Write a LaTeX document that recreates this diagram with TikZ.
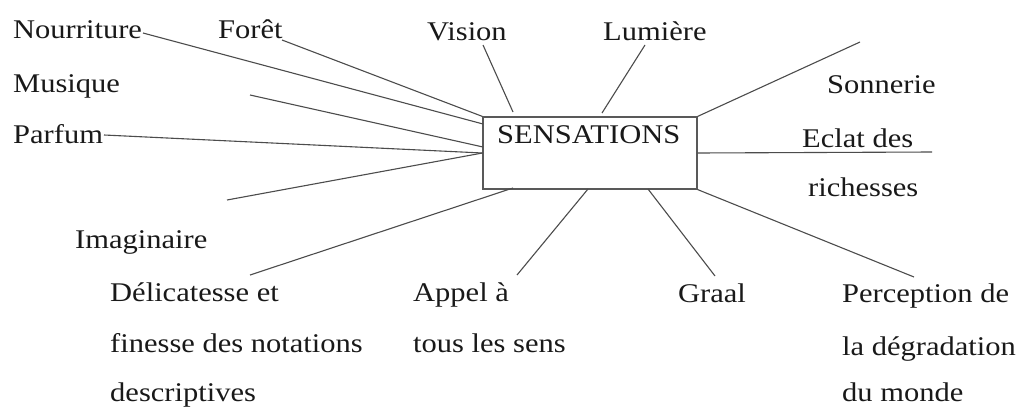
\documentclass[tikz,border=0pt]{standalone}
\usepackage{fontspec}
\usepackage{graphicx}
\setmainfont{Liberation Serif}
\newcommand{\wid}[1]{\scalebox{1.13}[1]{#1}}
\usetikzlibrary{calc}
\begin{document}
\begin{tikzpicture}[x=1pt,y=-1pt,
  lbl/.style={inner sep=0pt,anchor=base west,font=\fontsize{27}{32}\selectfont,text=black!90},
  conn/.style={draw=black!70,line width=1.1pt},
  boxst/.style={draw=black!65,line width=1.1pt,minimum width=214pt,minimum height=72pt,inner sep=0pt}]
\useasboundingbox[fill=white] (0,0) rectangle (1017,407);
% central box
\node[boxst] (box) at (590,153) {};
\node[lbl] (sens) at (497,143) {\wid{SENSATIONS}};
% labels
\node[lbl] (nour) at (13,38) {\wid{Nourriture}};
\node[lbl] (foret) at (218,38) {\wid{Forêt}};
\node[lbl] (vision) at (427,40) {\wid{Vision}};
\node[lbl] (lum) at (603,40) {\wid{Lumière}};
\node[lbl] (mus) at (13,92) {\wid{Musique}};
\node[lbl] (parf) at (13,143) {\wid{Parfum}};
\node[lbl] (son) at (827,93) {\wid{Sonnerie}};
\node[lbl] (ecl1) at (802,147) {\wid{Eclat des}};
\node[lbl] (ecl2) at (808,196) {\wid{richesses}};
\node[lbl] (imag) at (75,248) {\wid{Imaginaire}};
\node[lbl] (del1) at (110,301) {\wid{Délicatesse et}};
\node[lbl] (del2) at (110,352) {\wid{finesse des notations}};
\node[lbl] (del3) at (110,401) {\wid{descriptives}};
\node[lbl] (app1) at (413,301) {\wid{Appel à}};
\node[lbl] (app2) at (413,352) {\wid{tous les sens}};
\node[lbl] (graal) at (678,302) {\wid{Graal}};
\node[lbl] (perc1) at (842,302) {\wid{Perception de}};
\node[lbl] (perc2) at (842,355) {\wid{la dégradation}};
\node[lbl] (perc3) at (842,401) {\wid{du monde}};
% free ends and box attachment points
\coordinate (nourE) at (143,33);
\coordinate (foretE) at (282,40);
\coordinate (visE) at (483,45);
\coordinate (lumE) at (645,45);
\coordinate (musE) at (250,95);
\coordinate (parfE) at (104,135);
\coordinate (imagE) at (227,200);
\coordinate (delE) at (250,275);
\coordinate (appE) at (517,275);
\coordinate (graalE) at (715,276);
\coordinate (percE) at (914,277);
\coordinate (eclE) at (932,152);
\coordinate (sonE) at (860,42);
\coordinate (bNour) at (483,124);
\coordinate (bMus) at (483,147);
\coordinate (bVis) at (513,112);
\coordinate (bLum) at (602,113);
\coordinate (bDel) at (513,188);
\coordinate (bApp) at (588,189);
\coordinate (bGraal) at (648,189);
% connectors
\draw[conn] (nourE) -- (bNour);
\draw[conn] (foretE) -- (box.north west);
\draw[conn] (visE) -- (bVis);
\draw[conn] (lumE) -- (bLum);
\draw[conn] (musE) -- (bMus);
\draw[conn] (parfE) -- (box.west);
\draw[conn] (imagE) -- (box.west);
\draw[conn] (delE) -- (bDel);
\draw[conn] (appE) -- (bApp);
\draw[conn] (graalE) -- (bGraal);
\draw[conn] (percE) -- (box.south east);
\draw[conn] (box.east) -- (eclE);
\draw[conn] (box.north east) -- (sonE);
\end{tikzpicture}
\end{document}
